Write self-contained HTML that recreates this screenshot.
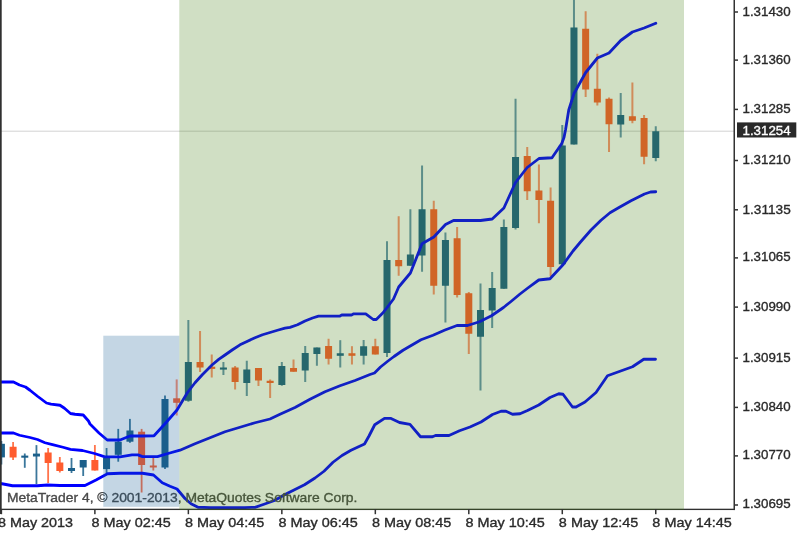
<!DOCTYPE html>
<html><head><meta charset="utf-8"><title>Chart</title>
<style>html,body{margin:0;padding:0;background:#fff;overflow:hidden}svg{display:block}</style></head>
<body>
<svg width="800" height="540" viewBox="0 0 800 540">
<rect width="800" height="540" fill="#fff"/>
<rect x="0" y="130.65" width="734" height="1.1" fill="#d6d6d6"/>
<defs><filter id="bl" x="-5%" y="-5%" width="110%" height="110%"><feGaussianBlur stdDeviation="0.45"/></filter></defs>
<g filter="url(#bl)">
<rect x="0.50" y="441.00" width="1.8" height="23.50" fill="#1a5f8a" opacity="0.85"/>
<rect x="-2.10" y="443.80" width="7.0" height="13.60" fill="#1a5f8a"/>
<rect x="12.19" y="442.00" width="1.8" height="18.00" fill="#ff5c2d" opacity="0.85"/>
<rect x="9.59" y="446.75" width="7.0" height="10.75" fill="#ff5c2d"/>
<rect x="23.87" y="453.50" width="1.8" height="14.30" fill="#1a5f8a" opacity="0.85"/>
<rect x="21.27" y="455.60" width="7.0" height="2.10" fill="#1a5f8a"/>
<rect x="35.55" y="445.10" width="1.8" height="38.90" fill="#1a5f8a" opacity="0.85"/>
<rect x="32.95" y="453.60" width="7.0" height="2.90" fill="#1a5f8a"/>
<rect x="47.24" y="448.00" width="1.8" height="35.00" fill="#ff5c2d" opacity="0.85"/>
<rect x="44.64" y="452.50" width="7.0" height="10.50" fill="#ff5c2d"/>
<rect x="58.93" y="457.00" width="1.8" height="15.50" fill="#ff5c2d" opacity="0.85"/>
<rect x="56.33" y="462.50" width="7.0" height="8.50" fill="#ff5c2d"/>
<rect x="70.61" y="458.00" width="1.8" height="15.00" fill="#1a5f8a" opacity="0.85"/>
<rect x="68.01" y="468.00" width="7.0" height="3.00" fill="#1a5f8a"/>
<rect x="82.30" y="460.00" width="1.8" height="16.00" fill="#1a5f8a" opacity="0.85"/>
<rect x="79.70" y="460.00" width="7.0" height="7.50" fill="#1a5f8a"/>
<rect x="93.98" y="445.00" width="1.8" height="25.50" fill="#ff5c2d" opacity="0.85"/>
<rect x="91.38" y="460.00" width="7.0" height="10.50" fill="#ff5c2d"/>
<rect x="105.67" y="448.00" width="1.8" height="25.00" fill="#1a5f8a" opacity="0.85"/>
<rect x="103.07" y="457.80" width="7.0" height="11.30" fill="#1a5f8a"/>
<rect x="117.35" y="428.90" width="1.8" height="32.80" fill="#1a5f8a" opacity="0.85"/>
<rect x="114.75" y="441.70" width="7.0" height="13.10" fill="#1a5f8a"/>
<rect x="129.03" y="418.90" width="1.8" height="23.90" fill="#1a5f8a" opacity="0.85"/>
<rect x="126.44" y="430.50" width="7.0" height="11.20" fill="#1a5f8a"/>
<rect x="140.72" y="428.90" width="1.8" height="63.60" fill="#ff5c2d" opacity="0.85"/>
<rect x="138.12" y="431.70" width="7.0" height="33.30" fill="#ff5c2d"/>
<rect x="152.41" y="457.80" width="1.8" height="12.70" fill="#ff5c2d" opacity="0.85"/>
<rect x="149.81" y="465.50" width="7.0" height="2.00" fill="#ff5c2d"/>
<rect x="164.09" y="395.50" width="1.8" height="73.50" fill="#1a5f8a" opacity="0.85"/>
<rect x="161.49" y="399.00" width="7.0" height="68.50" fill="#1a5f8a"/>
<rect x="175.68" y="379.40" width="2.0" height="36.10" fill="#ff5c2d" opacity="0.68"/>
<rect x="173.18" y="398.30" width="7.0" height="4.50" fill="#ff5c2d"/>
<rect x="187.36" y="320.00" width="2.0" height="81.75" fill="#1a5f8a" opacity="0.68"/>
<rect x="184.86" y="362.00" width="7.0" height="38.75" fill="#1a5f8a"/>
<rect x="199.05" y="331.00" width="2.0" height="41.00" fill="#ff5c2d" opacity="0.68"/>
<rect x="196.55" y="362.00" width="7.0" height="5.50" fill="#ff5c2d"/>
<rect x="210.73" y="354.50" width="2.0" height="23.00" fill="#ff5c2d" opacity="0.68"/>
<rect x="208.23" y="366.70" width="7.0" height="2.20" fill="#ff5c2d"/>
<rect x="222.42" y="362.00" width="2.0" height="13.00" fill="#1a5f8a" opacity="0.68"/>
<rect x="219.92" y="367.50" width="7.0" height="2.10" fill="#1a5f8a"/>
<rect x="234.10" y="366.00" width="2.0" height="23.50" fill="#ff5c2d" opacity="0.68"/>
<rect x="231.60" y="367.50" width="7.0" height="14.50" fill="#ff5c2d"/>
<rect x="245.79" y="360.75" width="2.0" height="35.25" fill="#1a5f8a" opacity="0.68"/>
<rect x="243.29" y="369.50" width="7.0" height="13.50" fill="#1a5f8a"/>
<rect x="257.47" y="368.00" width="2.0" height="18.00" fill="#ff5c2d" opacity="0.68"/>
<rect x="254.97" y="368.00" width="7.0" height="12.50" fill="#ff5c2d"/>
<rect x="269.15" y="379.50" width="2.0" height="18.50" fill="#ff5c2d" opacity="0.68"/>
<rect x="266.65" y="380.75" width="7.0" height="2.25" fill="#ff5c2d"/>
<rect x="280.84" y="362.00" width="2.0" height="23.75" fill="#1a5f8a" opacity="0.68"/>
<rect x="278.34" y="366.00" width="7.0" height="19.00" fill="#1a5f8a"/>
<rect x="292.52" y="359.50" width="2.0" height="12.25" fill="#ff5c2d" opacity="0.68"/>
<rect x="290.02" y="368.00" width="7.0" height="3.75" fill="#ff5c2d"/>
<rect x="304.21" y="346.00" width="2.0" height="36.00" fill="#1a5f8a" opacity="0.68"/>
<rect x="301.71" y="353.00" width="7.0" height="17.50" fill="#1a5f8a"/>
<rect x="315.89" y="347.50" width="2.0" height="18.25" fill="#1a5f8a" opacity="0.68"/>
<rect x="313.39" y="347.50" width="7.0" height="6.50" fill="#1a5f8a"/>
<rect x="327.58" y="338.75" width="2.0" height="25.75" fill="#ff5c2d" opacity="0.68"/>
<rect x="325.08" y="346.00" width="7.0" height="12.75" fill="#ff5c2d"/>
<rect x="339.26" y="340.20" width="2.0" height="27.30" fill="#1a5f8a" opacity="0.68"/>
<rect x="336.76" y="353.25" width="7.0" height="2.55" fill="#1a5f8a"/>
<rect x="350.95" y="346.20" width="2.0" height="18.30" fill="#ff5c2d" opacity="0.68"/>
<rect x="348.45" y="353.25" width="7.0" height="2.55" fill="#ff5c2d"/>
<rect x="362.63" y="340.00" width="2.0" height="24.50" fill="#1a5f8a" opacity="0.68"/>
<rect x="360.13" y="346.25" width="7.0" height="9.50" fill="#1a5f8a"/>
<rect x="374.32" y="338.75" width="2.0" height="15.75" fill="#ff5c2d" opacity="0.68"/>
<rect x="371.82" y="346.25" width="7.0" height="8.25" fill="#ff5c2d"/>
<rect x="386.00" y="241.25" width="2.0" height="115.75" fill="#1a5f8a" opacity="0.68"/>
<rect x="383.50" y="260.00" width="7.0" height="93.00" fill="#1a5f8a"/>
<rect x="397.69" y="216.25" width="2.0" height="59.50" fill="#ff5c2d" opacity="0.68"/>
<rect x="395.19" y="260.00" width="7.0" height="6.25" fill="#ff5c2d"/>
<rect x="409.38" y="209.25" width="2.0" height="56.50" fill="#1a5f8a" opacity="0.68"/>
<rect x="406.88" y="254.50" width="7.0" height="11.25" fill="#1a5f8a"/>
<rect x="421.06" y="165.50" width="2.0" height="106.25" fill="#1a5f8a" opacity="0.68"/>
<rect x="418.56" y="209.25" width="7.0" height="46.25" fill="#1a5f8a"/>
<rect x="432.75" y="200.75" width="2.0" height="93.75" fill="#ff5c2d" opacity="0.68"/>
<rect x="430.25" y="209.25" width="7.0" height="76.50" fill="#ff5c2d"/>
<rect x="444.43" y="232.50" width="2.0" height="90.00" fill="#1a5f8a" opacity="0.68"/>
<rect x="441.93" y="240.00" width="7.0" height="45.75" fill="#1a5f8a"/>
<rect x="456.12" y="227.00" width="2.0" height="70.50" fill="#ff5c2d" opacity="0.68"/>
<rect x="453.62" y="238.25" width="7.0" height="56.75" fill="#ff5c2d"/>
<rect x="467.80" y="292.00" width="2.0" height="62.00" fill="#ff5c2d" opacity="0.68"/>
<rect x="465.30" y="293.25" width="7.0" height="40.50" fill="#ff5c2d"/>
<rect x="479.49" y="283.50" width="2.0" height="107.00" fill="#1a5f8a" opacity="0.68"/>
<rect x="476.99" y="310.00" width="7.0" height="26.75" fill="#1a5f8a"/>
<rect x="491.17" y="272.00" width="2.0" height="56.00" fill="#1a5f8a" opacity="0.68"/>
<rect x="488.67" y="288.00" width="7.0" height="22.50" fill="#1a5f8a"/>
<rect x="502.86" y="219.50" width="2.0" height="69.25" fill="#1a5f8a" opacity="0.68"/>
<rect x="500.36" y="227.00" width="7.0" height="61.75" fill="#1a5f8a"/>
<rect x="514.54" y="98.75" width="2.0" height="130.75" fill="#1a5f8a" opacity="0.68"/>
<rect x="512.04" y="157.00" width="7.0" height="71.00" fill="#1a5f8a"/>
<rect x="526.23" y="147.00" width="2.0" height="53.00" fill="#ff5c2d" opacity="0.68"/>
<rect x="523.73" y="156.00" width="7.0" height="35.25" fill="#ff5c2d"/>
<rect x="537.91" y="164.50" width="2.0" height="58.75" fill="#ff5c2d" opacity="0.68"/>
<rect x="535.41" y="190.50" width="7.0" height="9.50" fill="#ff5c2d"/>
<rect x="549.60" y="187.50" width="2.0" height="88.75" fill="#ff5c2d" opacity="0.68"/>
<rect x="547.10" y="200.75" width="7.0" height="66.25" fill="#ff5c2d"/>
<rect x="561.28" y="125.00" width="2.0" height="140.00" fill="#1a5f8a" opacity="0.68"/>
<rect x="558.78" y="145.50" width="7.0" height="118.75" fill="#1a5f8a"/>
<rect x="572.97" y="-2.00" width="2.0" height="146.50" fill="#1a5f8a" opacity="0.68"/>
<rect x="570.47" y="27.50" width="7.0" height="117.00" fill="#1a5f8a"/>
<rect x="584.65" y="11.25" width="2.0" height="85.75" fill="#ff5c2d" opacity="0.68"/>
<rect x="582.15" y="28.75" width="7.0" height="60.75" fill="#ff5c2d"/>
<rect x="596.34" y="53.75" width="2.0" height="51.75" fill="#ff5c2d" opacity="0.68"/>
<rect x="593.84" y="88.75" width="7.0" height="13.75" fill="#ff5c2d"/>
<rect x="608.02" y="97.50" width="2.0" height="54.50" fill="#ff5c2d" opacity="0.68"/>
<rect x="605.52" y="98.75" width="7.0" height="25.50" fill="#ff5c2d"/>
<rect x="619.71" y="93.00" width="2.0" height="44.50" fill="#1a5f8a" opacity="0.68"/>
<rect x="617.21" y="115.00" width="7.0" height="9.50" fill="#1a5f8a"/>
<rect x="631.39" y="82.50" width="2.0" height="40.75" fill="#ff5c2d" opacity="0.68"/>
<rect x="628.89" y="116.25" width="7.0" height="4.50" fill="#ff5c2d"/>
<rect x="643.08" y="115.00" width="2.0" height="49.25" fill="#ff5c2d" opacity="0.68"/>
<rect x="640.58" y="118.00" width="7.0" height="38.75" fill="#ff5c2d"/>
<rect x="654.76" y="126.25" width="2.0" height="35.00" fill="#1a5f8a" opacity="0.68"/>
<rect x="652.26" y="131.25" width="7.0" height="26.75" fill="#1a5f8a"/>
<polyline points="-2.00,382.00 1.50,382.00 13.50,382.00 19.50,385.00 25.50,387.00 30.00,390.25 37.50,396.25 46.50,403.00 51.00,404.20 60.00,405.25 64.50,408.25 70.50,413.50 75.00,414.25 83.25,415.00 88.50,421.00 90.00,424.00 99.00,433.00 107.25,440.00 120.00,440.00 130.00,436.00 142.50,436.00 154.00,435.75 165.00,423.75 177.00,410.00 187.50,392.50 195.00,382.75 202.50,374.50 212.25,364.75 219.00,359.20 225.00,355.00 232.50,349.75 240.00,344.80 247.50,341.20 255.00,337.75 262.50,334.75 270.00,332.50 277.50,330.25 285.00,328.20 290.00,327.30 297.50,324.75 305.00,321.00 312.50,318.00 318.50,316.20 339.50,316.20 341.75,315.00 351.50,315.00 353.75,313.80 365.75,313.80 373.25,319.50 376.25,319.50 383.00,312.75 388.25,306.00 393.50,299.00 398.70,287.00 410.40,273.00 422.00,243.75 433.80,237.00 445.50,224.50 453.50,220.50 457.20,220.50 468.90,220.50 480.50,220.50 492.20,219.00 503.90,208.00 515.50,182.50 527.20,167.50 539.00,158.50 552.00,157.75 561.75,143.50 564.00,137.50 565.50,130.00 568.75,110.00 574.00,93.50 585.70,72.50 597.40,58.00 609.00,53.00 620.70,40.50 632.40,32.00 644.10,28.00 655.80,23.25" fill="none" stroke="#0000ff" stroke-width="2.8" stroke-linejoin="round" stroke-linecap="round"/>
<polyline points="-2.00,433.00 1.50,433.00 13.50,433.00 19.50,435.25 30.00,437.50 37.50,439.50 45.00,442.75 52.50,444.70 63.00,447.25 70.50,449.30 82.50,450.50 94.50,453.50 105.00,456.80 120.00,456.80 132.00,454.90 138.00,454.90 142.50,456.60 157.50,456.60 168.00,453.50 180.00,450.20 195.00,443.75 210.00,437.75 225.00,431.75 240.00,427.25 255.00,422.75 270.00,419.00 280.00,414.25 295.00,407.50 310.00,399.25 325.00,391.75 340.00,385.75 355.00,380.50 370.00,374.50 374.50,373.00 380.50,367.00 388.00,361.00 394.00,356.50 403.00,350.25 412.00,345.00 421.00,339.75 433.00,335.25 445.00,330.00 457.00,325.50 467.50,325.50 479.50,321.75 491.50,315.75 503.50,307.50 511.00,301.50 520.00,294.00 527.50,288.25 538.75,280.00 550.00,278.75 563.25,264.50 573.00,251.00 580.50,242.00 591.00,230.00 601.00,220.25 610.00,212.75 619.00,207.50 631.00,200.75 644.50,194.00 650.50,192.00 655.75,191.75" fill="none" stroke="#0000ff" stroke-width="2.8" stroke-linejoin="round" stroke-linecap="round"/>
<polyline points="-2.00,483.75 2.00,483.75 12.50,485.75 25.00,485.75 37.50,485.75 47.50,485.00 60.00,485.50 72.50,485.50 85.00,485.50 96.00,480.00 107.50,473.75 120.00,473.25 130.00,473.25 142.50,473.25 153.50,475.00 162.25,482.75 170.00,486.25 177.00,489.00 185.00,498.50 191.00,503.75 198.00,507.25 210.00,507.60 244.50,507.60 255.00,507.30 264.00,504.25 274.50,500.50 285.00,494.50 294.00,490.00 304.50,484.75 315.00,478.00 324.00,471.25 333.00,462.25 342.00,455.50 351.00,450.30 364.50,444.00 369.00,436.00 374.75,424.75 384.50,418.30 390.50,418.30 399.50,422.50 410.00,424.30 420.50,436.75 432.50,436.75 435.50,435.50 449.00,435.50 459.50,430.75 470.00,427.00 481.00,422.00 492.50,414.50 501.00,411.25 506.00,411.25 512.50,414.25 520.00,413.75 527.50,410.50 538.75,405.00 550.00,397.50 558.75,393.75 563.00,394.25 572.50,407.00 576.00,407.00 585.00,402.00 596.00,392.50 607.50,375.75 620.00,371.25 632.50,366.75 643.75,359.25 655.50,359.25" fill="none" stroke="#0000ff" stroke-width="2.8" stroke-linejoin="round" stroke-linecap="round"/>
</g>
<rect x="0" y="0" width="1.7" height="514" fill="#303030"/>
<text x="6.9" y="502.4" font-family="'Liberation Sans', sans-serif" font-size="13.4" fill="#484848" stroke="#484848" stroke-width="0.35" textLength="350.5" lengthAdjust="spacingAndGlyphs">MetaTrader 4, © 2001-2013, MetaQuotes Software Corp.</text>
<rect x="0" y="508.7" width="735" height="1.35" fill="#303030"/>
<rect x="733.5" y="0" width="1.5" height="510.05" fill="#333"/>
<rect x="103.3" y="335.7" width="76" height="171.1" fill="rgb(19,91,147)" fill-opacity="0.25"/>
<rect x="179.3" y="0" width="504.7" height="510" fill="rgb(67,127,19)" fill-opacity="0.25"/>
<rect x="0.65" y="509" width="1.5" height="5.2" fill="#333"/>
<text x="-2.00" y="527.2" font-family="'Liberation Sans', sans-serif" font-size="13.4" fill="#2a2a2a" stroke="#2a2a2a" stroke-width="0.35" textLength="75" lengthAdjust="spacingAndGlyphs">8 May 2013</text>
<rect x="94.13" y="509" width="1.5" height="5.2" fill="#333"/>
<text x="91.48" y="527.2" font-family="'Liberation Sans', sans-serif" font-size="13.4" fill="#2a2a2a" stroke="#2a2a2a" stroke-width="0.35" textLength="79.4" lengthAdjust="spacingAndGlyphs">8 May 02:45</text>
<rect x="187.61" y="509" width="1.5" height="5.2" fill="#333"/>
<text x="184.96" y="527.2" font-family="'Liberation Sans', sans-serif" font-size="13.4" fill="#2a2a2a" stroke="#2a2a2a" stroke-width="0.35" textLength="79.4" lengthAdjust="spacingAndGlyphs">8 May 04:45</text>
<rect x="281.09" y="509" width="1.5" height="5.2" fill="#333"/>
<text x="278.44" y="527.2" font-family="'Liberation Sans', sans-serif" font-size="13.4" fill="#2a2a2a" stroke="#2a2a2a" stroke-width="0.35" textLength="79.4" lengthAdjust="spacingAndGlyphs">8 May 06:45</text>
<rect x="374.57" y="509" width="1.5" height="5.2" fill="#333"/>
<text x="371.92" y="527.2" font-family="'Liberation Sans', sans-serif" font-size="13.4" fill="#2a2a2a" stroke="#2a2a2a" stroke-width="0.35" textLength="79.4" lengthAdjust="spacingAndGlyphs">8 May 08:45</text>
<rect x="468.05" y="509" width="1.5" height="5.2" fill="#333"/>
<text x="465.40" y="527.2" font-family="'Liberation Sans', sans-serif" font-size="13.4" fill="#2a2a2a" stroke="#2a2a2a" stroke-width="0.35" textLength="79.4" lengthAdjust="spacingAndGlyphs">8 May 10:45</text>
<rect x="561.53" y="509" width="1.5" height="5.2" fill="#333"/>
<text x="558.88" y="527.2" font-family="'Liberation Sans', sans-serif" font-size="13.4" fill="#2a2a2a" stroke="#2a2a2a" stroke-width="0.35" textLength="79.4" lengthAdjust="spacingAndGlyphs">8 May 12:45</text>
<rect x="655.01" y="509" width="1.5" height="5.2" fill="#333"/>
<text x="652.36" y="527.2" font-family="'Liberation Sans', sans-serif" font-size="13.4" fill="#2a2a2a" stroke="#2a2a2a" stroke-width="0.35" textLength="79.4" lengthAdjust="spacingAndGlyphs">8 May 14:45</text>
<rect x="735" y="11.25" width="3.0" height="1.5" fill="#333"/>
<text x="742.5" y="15.60" font-family="'Liberation Sans', sans-serif" font-size="13.3" fill="#2a2a2a" stroke="#2a2a2a" stroke-width="0.35" textLength="48.2" lengthAdjust="spacingAndGlyphs">1.31430</text>
<rect x="735" y="59.35" width="3.0" height="1.5" fill="#333"/>
<text x="742.5" y="63.50" font-family="'Liberation Sans', sans-serif" font-size="13.3" fill="#2a2a2a" stroke="#2a2a2a" stroke-width="0.35" textLength="48.2" lengthAdjust="spacingAndGlyphs">1.31360</text>
<rect x="735" y="108.65" width="3.0" height="1.5" fill="#333"/>
<text x="742.5" y="113.10" font-family="'Liberation Sans', sans-serif" font-size="13.3" fill="#2a2a2a" stroke="#2a2a2a" stroke-width="0.35" textLength="48.2" lengthAdjust="spacingAndGlyphs">1.31285</text>
<rect x="735" y="159.75" width="3.0" height="1.5" fill="#333"/>
<text x="742.5" y="163.50" font-family="'Liberation Sans', sans-serif" font-size="13.3" fill="#2a2a2a" stroke="#2a2a2a" stroke-width="0.35" textLength="48.2" lengthAdjust="spacingAndGlyphs">1.31210</text>
<rect x="735" y="209.05" width="3.0" height="1.5" fill="#333"/>
<text x="742.5" y="213.50" font-family="'Liberation Sans', sans-serif" font-size="13.3" fill="#2a2a2a" stroke="#2a2a2a" stroke-width="0.35" textLength="48.2" lengthAdjust="spacingAndGlyphs">1.31135</text>
<rect x="735" y="257.15" width="3.0" height="1.5" fill="#333"/>
<text x="742.5" y="261.40" font-family="'Liberation Sans', sans-serif" font-size="13.3" fill="#2a2a2a" stroke="#2a2a2a" stroke-width="0.35" textLength="48.2" lengthAdjust="spacingAndGlyphs">1.31065</text>
<rect x="735" y="306.35" width="3.0" height="1.5" fill="#333"/>
<text x="742.5" y="310.90" font-family="'Liberation Sans', sans-serif" font-size="13.3" fill="#2a2a2a" stroke="#2a2a2a" stroke-width="0.35" textLength="48.2" lengthAdjust="spacingAndGlyphs">1.30990</text>
<rect x="735" y="357.35" width="3.0" height="1.5" fill="#333"/>
<text x="742.5" y="361.50" font-family="'Liberation Sans', sans-serif" font-size="13.3" fill="#2a2a2a" stroke="#2a2a2a" stroke-width="0.35" textLength="48.2" lengthAdjust="spacingAndGlyphs">1.30915</text>
<rect x="735" y="406.65" width="3.0" height="1.5" fill="#333"/>
<text x="742.5" y="411.10" font-family="'Liberation Sans', sans-serif" font-size="13.3" fill="#2a2a2a" stroke="#2a2a2a" stroke-width="0.35" textLength="48.2" lengthAdjust="spacingAndGlyphs">1.30840</text>
<rect x="735" y="455.15" width="3.0" height="1.5" fill="#333"/>
<text x="742.5" y="459.40" font-family="'Liberation Sans', sans-serif" font-size="13.3" fill="#2a2a2a" stroke="#2a2a2a" stroke-width="0.35" textLength="48.2" lengthAdjust="spacingAndGlyphs">1.30770</text>
<rect x="735" y="504.25" width="3.0" height="1.5" fill="#333"/>
<text x="742.5" y="508.30" font-family="'Liberation Sans', sans-serif" font-size="13.3" fill="#2a2a2a" stroke="#2a2a2a" stroke-width="0.35" textLength="48.2" lengthAdjust="spacingAndGlyphs">1.30695</text>
<rect x="737" y="122.4" width="59.3" height="15.1" fill="#2a2a2a"/>
<text x="742.5" y="134.5" font-family="'Liberation Sans', sans-serif" font-size="13.3" fill="#fff" stroke="#fff" stroke-width="0.35" textLength="48.2" lengthAdjust="spacingAndGlyphs">1.31254</text>
</svg>
</body></html>
